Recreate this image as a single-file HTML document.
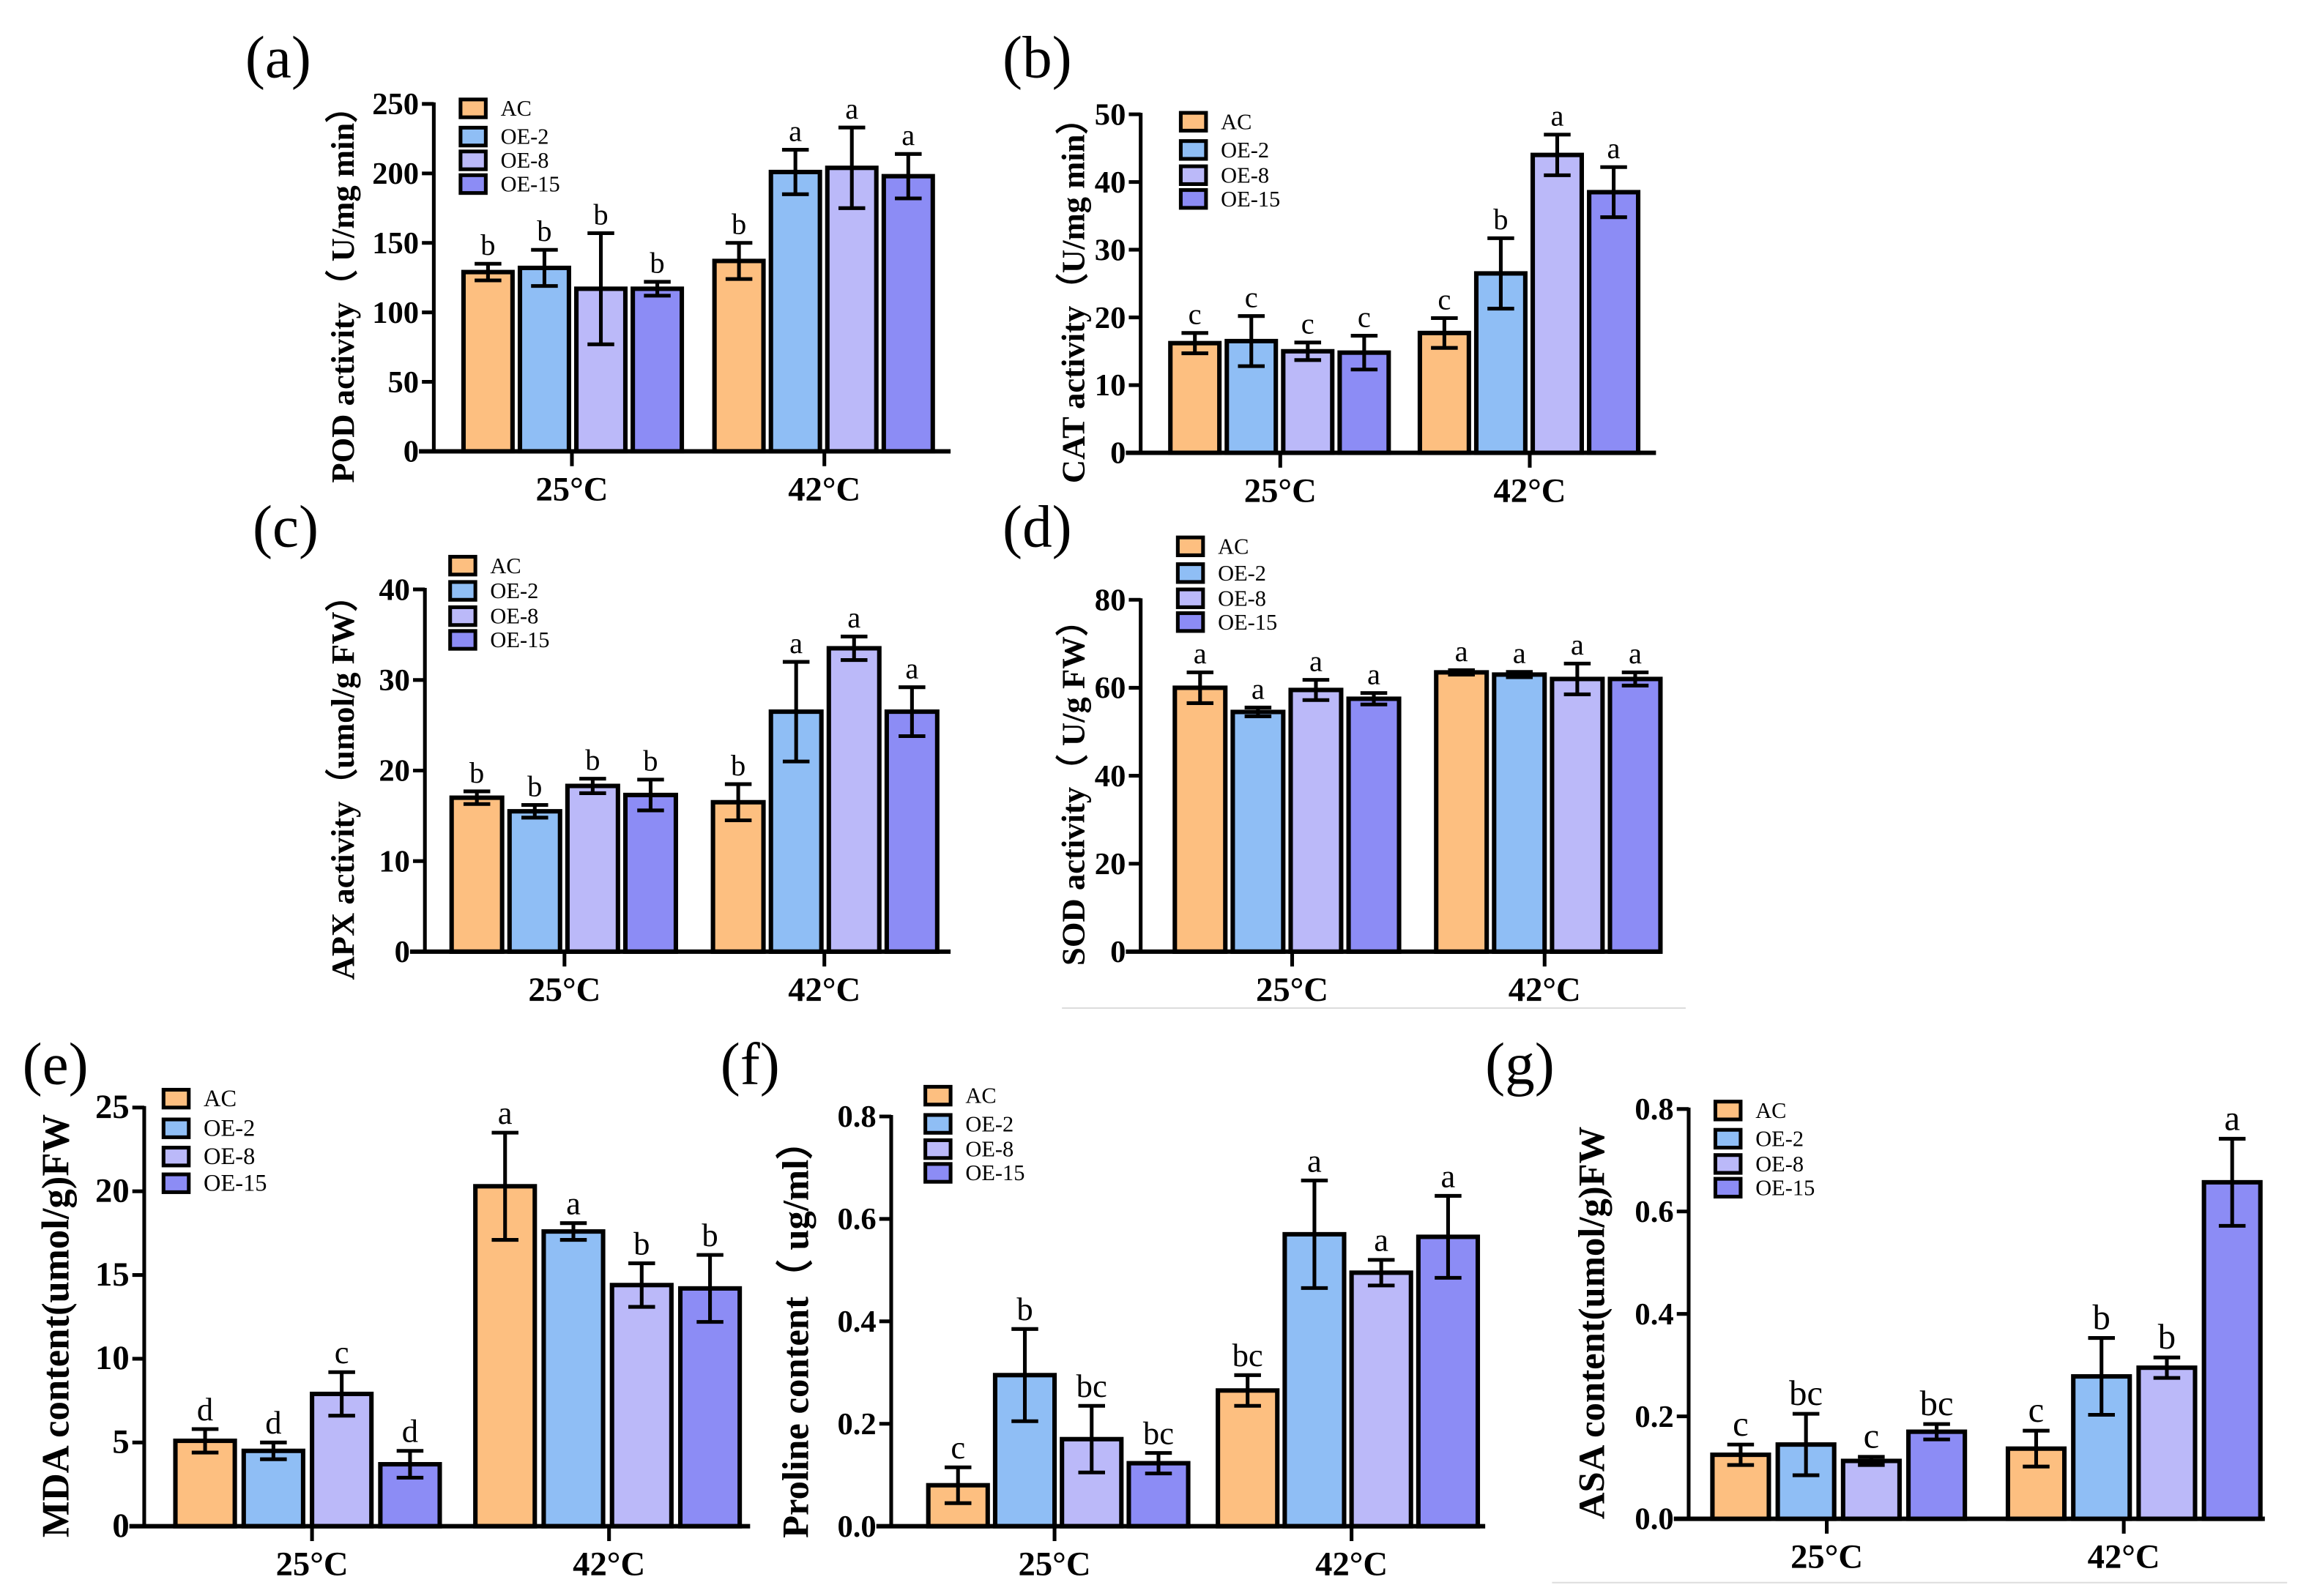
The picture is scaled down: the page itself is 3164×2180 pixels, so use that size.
<!DOCTYPE html>
<html><head><meta charset="utf-8">
<style>
html,body{margin:0;padding:0;background:#fff;}
svg{display:block;}
text{font-family:"Liberation Serif",serif;}
</style></head>
<body>
<svg id="fig" width="3164" height="2180" viewBox="0 0 1560 1075" xmlns="http://www.w3.org/2000/svg"></svg>
<script>
const series = ["AC","OE-2","OE-8","OE-15"];
const categories = ["25\u00B0C","42\u00B0C"];
const colors = ["#FDBF80","#8FBEF5","#BBB9F9","#8C8CF5"];

const aVals = [129,132,117,117, 137,201,204,198];
const aErr  = [6,13,40,5, 13,16,29,16];
const aLet  = ["b","b","b","b","b","a","a","a"];
const aTicks = [0,50,100,150,200,250];

const bVals = [16.2,16.5,15,14.8, 17.7,26.5,44,38.5];
const bErr  = [1.5,3.7,1.3,2.5, 2.2,5.2,3,3.7];
const bLet  = ["c","c","c","c","c","b","a","a"];
const bTicks = [0,10,20,30,40,50];

const cVals = [17,15.5,18.3,17.3, 16.5,26.5,33.5,26.5];
const cErr  = [0.7,0.7,0.8,1.7, 2,5.5,1.3,2.7];
const cLet  = ["b","b","b","b","b","a","a","a"];
const cTicks = [0,10,20,30,40];

const dVals = [60,54.5,59.5,57.5, 63.5,63,62,62];
const dErr  = [3.5,1,2.3,1.3, 0.5,0.6,3.5,1.5];
const dLet  = ["a","a","a","a","a","a","a","a"];
const dTicks = [0,20,40,60,80];

const eVals = [5.1,4.5,7.9,3.7, 20.3,17.6,14.4,14.2];
const eErr  = [0.7,0.5,1.3,0.8, 3.2,0.5,1.3,2];
const eLet  = ["d","d","c","d","a","a","b","b"];
const eTicks = [0,5,10,15,20,25];

const fVals = [0.08,0.295,0.17,0.123, 0.265,0.57,0.495,0.565];
const fErr  = [0.035,0.09,0.065,0.02, 0.03,0.105,0.025,0.08];
const fLet  = ["c","b","bc","bc","bc","a","a","a"];
const fTicks = ["0.0","0.2","0.4","0.6","0.8"];

const gVals = [0.125,0.145,0.113,0.17, 0.137,0.278,0.295,0.657];
const gErr  = [0.02,0.06,0.008,0.015, 0.035,0.075,0.02,0.085];
const gLet  = ["c","bc","c","bc","c","b","b","a"];
const gTicks = ["0.0","0.2","0.4","0.6","0.8"];

const NS = "http://www.w3.org/2000/svg";
const svg = document.getElementById("fig");
function mk(tag, attrs, parent, txt){
  const e = document.createElementNS(NS, tag);
  for (const k in attrs) e.setAttribute(k, attrs[k]);
  if (txt !== undefined) e.textContent = txt;
  parent.appendChild(e);
  return e;
}

const panels = [
 {id:"a", vals:aVals, err:aErr, let:aLet, ticks:aTicks, ax:292, yTop:70, y0:304, xEnd:640, g1:312, g2:481, bw:33, step:38, tickX:[385,555], title:"POD activity\uFF08 U/mg min\uFF09", ylx:238, tfs:22, lab:[165,52], leg:[310,[73,92,108,124]], fs:21, lfs:20, legfs:15},
 {id:"b", vals:bVals, err:bErr, let:bLet, ticks:bTicks, ax:768, yTop:77, y0:305, xEnd:1115, g1:788, g2:956, bw:33, step:38, tickX:[862,1030], title:"CAT  activity\uFF08U/mg min\uFF09", ylx:730, tfs:22, lab:[675,52], leg:[795,[82,101,118,134]], fs:21, lfs:20, legfs:15},
 {id:"c", vals:cVals, err:cErr, let:cLet, ticks:cTicks, ax:286, yTop:397, y0:641, xEnd:640, g1:304, g2:480, bw:34, step:39, tickX:[380,555], title:"APX activity\uFF08umol/g FW\uFF09", ylx:238, tfs:22, lab:[170,368], leg:[303,[381,398,415,431]], fs:21, lfs:20, legfs:15},
 {id:"d", vals:dVals, err:dErr, let:dLet, ticks:dTicks, ax:768, yTop:404, y0:641, xEnd:1118, g1:791, g2:967, bw:34, step:39, tickX:[870,1040], title:"SOD activity\uFF08 U/g FW\uFF09", ylx:730, tfs:22, lab:[675,368], leg:[793,[368,386,403,419]], fs:21, lfs:20, legfs:15},
 {id:"e", vals:eVals, err:eErr, let:eLet, ticks:eTicks, ax:97, yTop:746, y0:1028, xEnd:505, g1:118, g2:320, bw:40, step:46, tickX:[210,410], title:"MDA content(umol/g)FW", ylx:46, tfs:26, lab:[15,730], leg:[110,[740,760,779,797]], fs:23, lfs:22, legfs:16},
 {id:"f", vals:fVals, err:fErr, let:fLet, ticks:fTicks, ax:600, yTop:752, y0:1028, xEnd:1000, g1:625, g2:820, bw:40, step:45, tickX:[710,910], title:"Proline content\uFF08 ug/ml\uFF09", ylx:544, tfs:25, lab:[485,730], leg:[623,[738,757,774,790]], fs:21, lfs:22, legfs:15},
 {id:"g", vals:gVals, err:gErr, let:gLet, ticks:gTicks, ax:1137, yTop:747, y0:1023, xEnd:1525, g1:1153, g2:1352, bw:38, step:44, tickX:[1230,1430], title:"ASA content(umol/g)FW", ylx:1080, tfs:25, lab:[1000,730], leg:[1155,[748,767,784,800]], fs:21, lfs:24, legfs:15}
];

mk("line",{x1:715,y1:679,x2:1135,y2:679,stroke:"#ddd","stroke-width":1},svg);
mk("line",{x1:1045,y1:1066,x2:1540,y2:1066,stroke:"#ddd","stroke-width":1},svg);

panels.forEach(p=>{
  const g = mk("g",{},svg);
  
  
  const tickNums = p.ticks.map(Number);
  const yMax = tickNums[tickNums.length-1];
  const y = v => p.y0 - (v/yMax)*(p.y0-p.yTop);

  const lab = mk("text",{x:p.lab[0],y:p.lab[1],"font-size":40},g,"("+p.id+")");
  
  

  const ya = mk("line",{x1:p.ax,y1:p.yTop-1,x2:p.ax,y2:p.y0,stroke:"#000","stroke-width":2.5},g);
  
  
  p.ticks.forEach((t,i)=>{
    const yy = y(tickNums[i]);
    mk("line",{x1:p.ax-8,y1:yy,x2:p.ax,y2:yy,stroke:"#000","stroke-width":2.5},g);
    const tl = mk("text",{x:p.ax-10,y:yy+7,"font-size":p.fs,"font-weight":"bold","text-anchor":"end"},g,String(t));
    
    
  });
  const cy = (p.yTop+p.y0)/2 + 6;
  const yt = mk("text",{x:p.ylx,y:cy,"font-size":p.tfs,"font-weight":"bold","text-anchor":"middle",transform:"rotate(-90 "+p.ylx+" "+cy+")"},g,p.title);
  
  

  p.vals.forEach((v,i)=>{
    const grp = Math.floor(i/4), k = i%4;
    const x0 = (grp===0?p.g1:p.g2) + k*p.step;
    const top = y(v);
    const r = mk("rect",{x:x0,y:top,width:p.bw,height:p.y0-top,fill:colors[k],stroke:"#000","stroke-width":3},g);
    
    
    const cx = x0 + p.bw/2;
    const hi = y(v+p.err[i]), lo = y(v-p.err[i]);
    const eb = mk("path",{d:"M"+cx+" "+hi+"V"+lo+"M"+(cx-9)+" "+hi+"H"+(cx+9)+"M"+(cx-9)+" "+lo+"H"+(cx+9),stroke:"#000","stroke-width":2.5,fill:"none"},g);
    
    
    const lt = mk("text",{x:cx,y:Math.min(hi,top)-6,"font-size":p.lfs,"text-anchor":"middle"},g,p.let[i]);
    
    
  });

  const xa = mk("line",{x1:p.ax-10,y1:p.y0,x2:p.xEnd,y2:p.y0,stroke:"#000","stroke-width":3},g);
  
  
  categories.forEach((c,i)=>{
    const tx = p.tickX[i];
    mk("line",{x1:tx,y1:p.y0,x2:tx,y2:p.y0+10,stroke:"#000","stroke-width":2.5},g);
    const cl = mk("text",{x:tx,y:p.y0+33,"font-size":23,"font-weight":"bold","text-anchor":"middle"},g,c);
    
    
  });

  series.forEach((s,k)=>{
    const ly = p.leg[1][k];
    const le = mk("g",{},g);
    
    
    mk("rect",{x:p.leg[0],y:ly-6,width:17,height:12,fill:colors[k],stroke:"#000","stroke-width":2.5},le);
    mk("text",{x:p.leg[0]+27,y:ly+5,"font-size":p.legfs},le,s);
  });
});
</script>
</body></html>
